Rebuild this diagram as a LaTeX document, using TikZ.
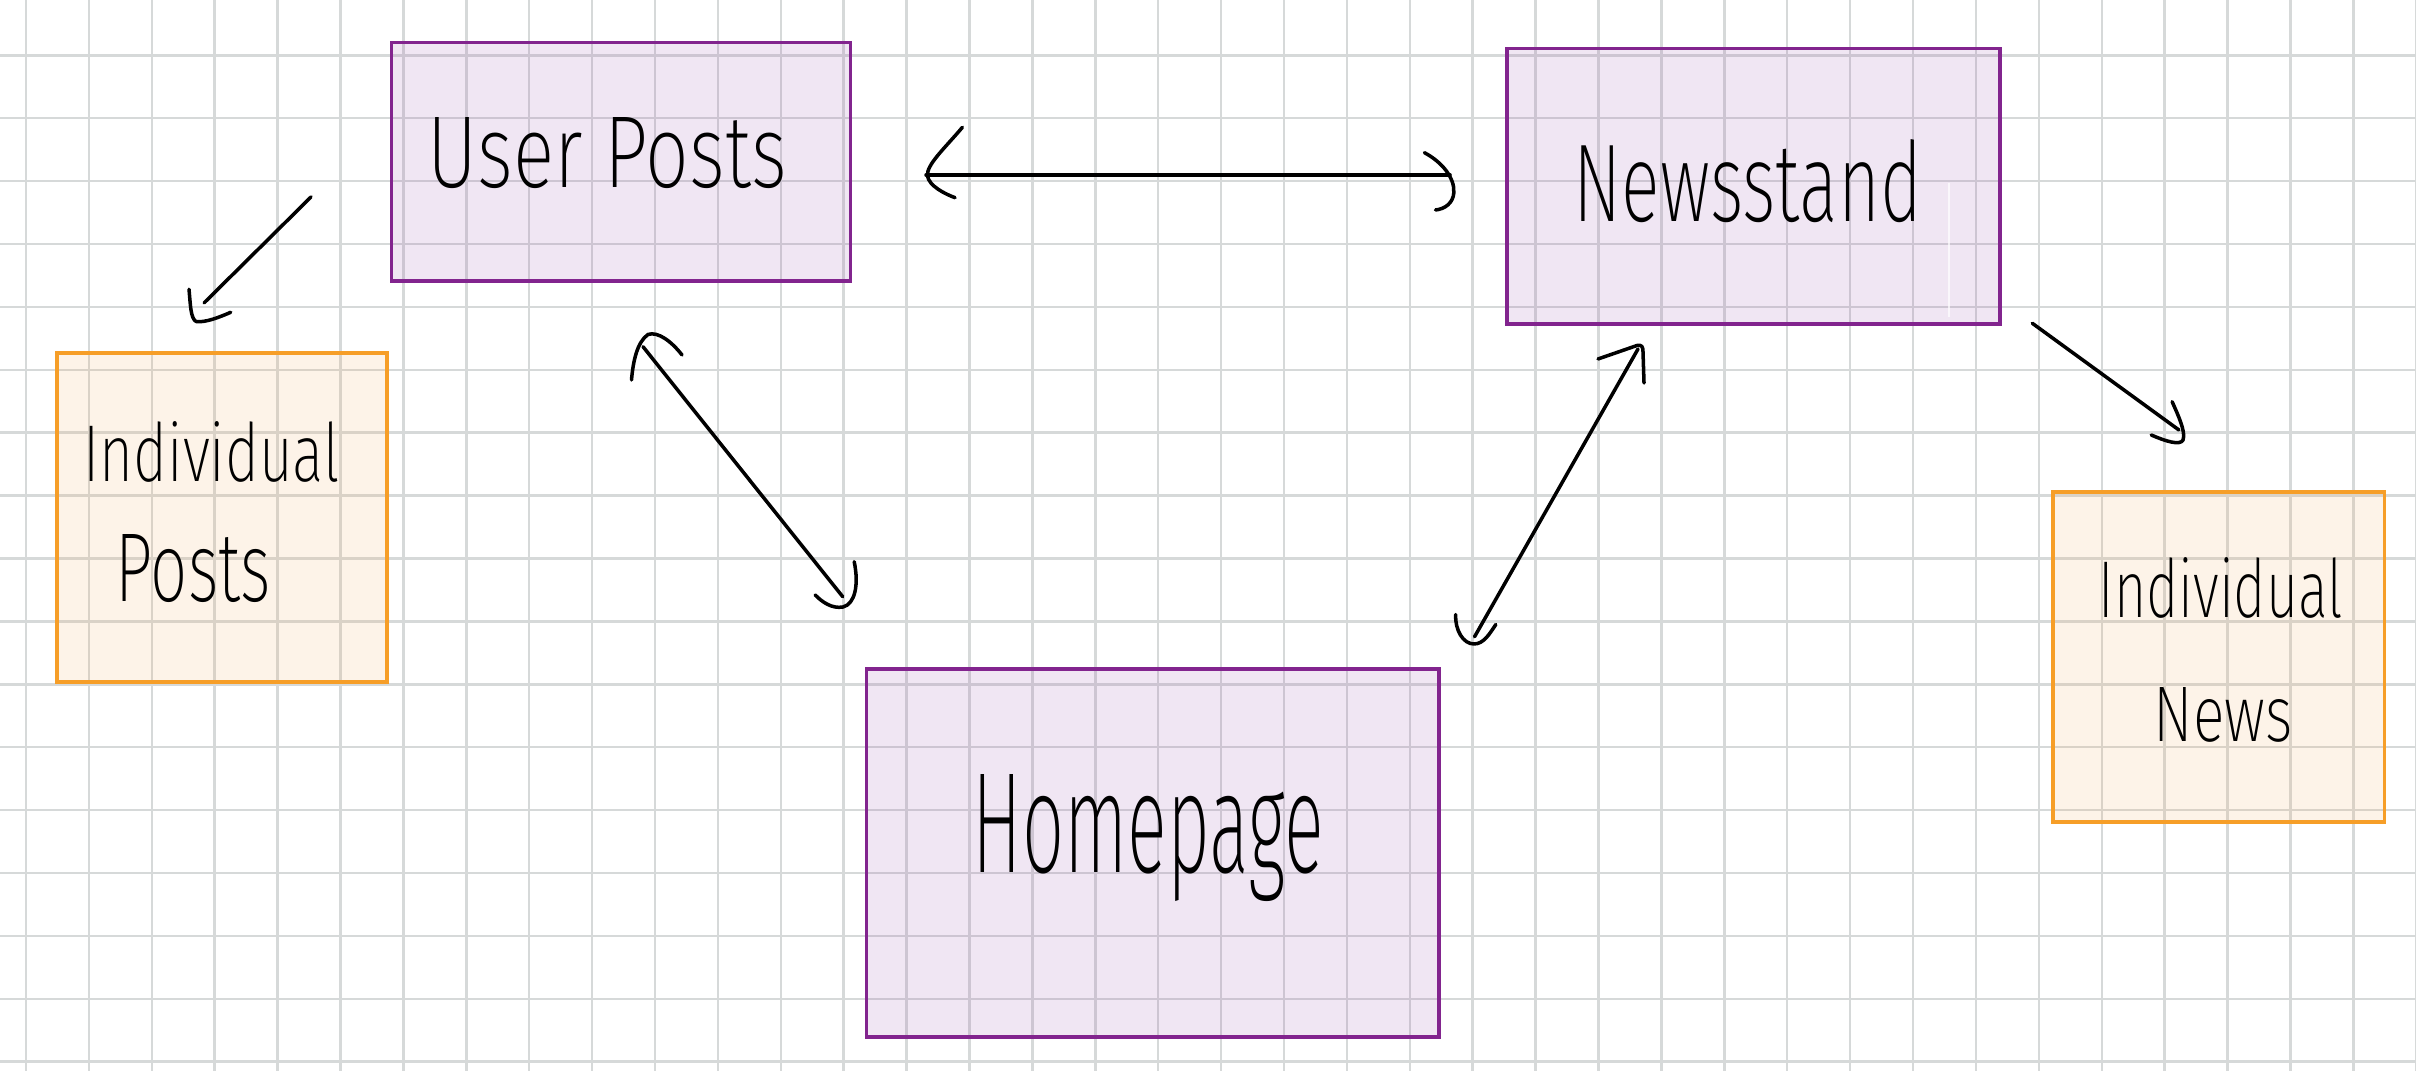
\documentclass[tikz,border=0pt]{standalone}
\usepackage{fontspec}
\usepackage{graphicx}
\IfFontExistsTF{FiraSans-ExtraLight.otf}{\newfontfamily\hand{FiraSans-ExtraLight.otf}}{%
 \IfFontExistsTF{Fira Sans ExtraLight}{\newfontfamily\hand{Fira Sans ExtraLight}}{%
  \IfFontExistsTF{FiraSans-Light.otf}{\newfontfamily\hand{FiraSans-Light.otf}}{%
   \IfFontExistsTF{Fira Sans Light}{\newfontfamily\hand{Fira Sans Light}}{%
    \newfontfamily\hand{Fira Sans}}}}}
\usetikzlibrary{calc}
\definecolor{gridc}{RGB}{214,217,217}
\definecolor{purpleline}{RGB}{130,36,142}
\definecolor{purplefill}{RGB}{155,88,175}
\definecolor{orangeline}{RGB}{246,158,40}
\definecolor{orangefill}{RGB}{242,175,102}
\newlength{\pxu}\setlength{\pxu}{0.01cm}
\newcommand{\handtext}[3]{\resizebox{#1\pxu}{#2\pxu}{\hand #3}}
\tikzset{
  gridline/.style={draw=gridc, line width=0.7pt},
  pagebox/.style={draw=purpleline, fill=purplefill, fill opacity=0.15, draw opacity=1, line width=1pt, inner sep=0pt, anchor=north west, rectangle},
  itembox/.style={draw=orangeline, fill=orangefill, fill opacity=0.15, draw opacity=1, line width=1.1pt, inner sep=0pt, anchor=north west, rectangle},
  label text/.style={anchor=base west, inner sep=0pt, text=black},
  arr/.style={draw=black, line width=1pt, line cap=round, line join=round},
}
\begin{document}
\begin{tikzpicture}[x=0.01cm, y=-0.01cm]
\useasboundingbox (0,0) rectangle (2416,1071);
\fill[white] (0,0) rectangle (2416,1071);
% grid paper
\foreach \i in {0,...,38} {\draw[gridline] ({26+62.9*\i},0) -- ({26+62.9*\i},1071);}
\foreach \j in {0,...,16} {\draw[gridline] (0,{55.3+62.9*\j}) -- (2416,{55.3+62.9*\j});}

% boxes
\node[pagebox, minimum width=4.59cm, minimum height=2.38cm] (userposts) at (389.5,41) {};
\node[pagebox, minimum width=4.93cm, minimum height=2.75cm] (newsstand) at (1505,47) {};
\node[pagebox, minimum width=5.725cm, minimum height=3.675cm] (homepage) at (864.5,667.5) {};
\node[itembox, minimum width=3.30cm, minimum height=3.29cm] (indivposts) at (55,351) {};
\node[itembox, minimum width=3.31cm, minimum height=3.30cm] (indivnews) at (2051.3,489.7) {};
\draw[white, line width=0.45pt, opacity=0.7] (1949,183) -- (1949,317);

% labels
\node[label text] (tuser) at (427,188) {\handtext{359}{70}{User Posts}};
\node[label text] (tnews) at (1573,222) {\handtext{348}{82}{Newsstand}};
\node[label text] (thome) at (972,873) {\handtext{351}{98}{Homepage}};
\node[label text] (tip1) at (83,482) {\handtext{256}{60}{Individual}};
\node[label text] (tip2) at (115,602) {\handtext{155}{67}{Posts}};
\node[label text] (tin1) at (2098,618) {\handtext{244}{60}{Individual}};
\node[label text] (tin2) at (2153,742) {\handtext{139}{54}{News}};

% connector end points
\coordinate (a1s) at (311,197);
\coordinate (a1e) at (204,303);
\coordinate (a2s) at (926,175);
\coordinate (a2e) at (1450,175);
\coordinate (a3s) at (643,346.7);
\coordinate (a3e) at (842.7,596.7);
\coordinate (a4s) at (1474.5,636.8);
\coordinate (a4e) at (1638,349);
\coordinate (a5s) at (2032.3,323.3);
\coordinate (a5e) at (2178.9,430);

% User Posts -> Individual Posts
\draw[arr] (a1s) -- (a1e);
\draw[arr] (189,289.3) .. controls (190.5,305) and (190.5,318) .. (196,321.5) .. controls (205,323) and (220,317) .. (230.7,312.3);

% User Posts <-> Newsstand
\draw[arr] (a2s) -- (a2e);
\draw[arr] (962.4,127.3) .. controls (945,148) and (926,165) .. (927.5,176) .. controls (929,186) and (945,194) .. (955,197.7);
\draw[arr] (1424.4,152.7) .. controls (1442,162) and (1455,178) .. (1453.8,193) .. controls (1453,203) and (1445,209) .. (1435.5,210);

% User Posts <-> Homepage
\draw[arr] (a3s) -- (a3e);
\draw[arr] (631.5,380) .. controls (633,362) and (637,342) .. (648,334.5) .. controls (658,331) and (672,342) .. (682,355);
\draw[arr] (815.2,595) .. controls (822,602) and (832,609) .. (843,607) .. controls (855,604) and (859,585) .. (854.2,561.7);

% Homepage <-> Newsstand
\draw[arr] (a4s) -- (a4e);
\draw[arr] (1598,359) -- (1637,345.5) .. controls (1642,344.5) and (1643,347) .. (1643,352) -- (1644,383);
\draw[arr] (1455.6,614.6) .. controls (1455,630) and (1463,644) .. (1474,644) .. controls (1484,644) and (1490,633) .. (1495.8,624.5);

% Newsstand -> Individual News
\draw[arr] (a5s) -- (a5e);
\draw[arr] (2172.1,401.7) .. controls (2178,415) and (2186,432) .. (2183,440) .. controls (2180,446) and (2165,441) .. (2151.2,435);
\end{tikzpicture}
\end{document}
